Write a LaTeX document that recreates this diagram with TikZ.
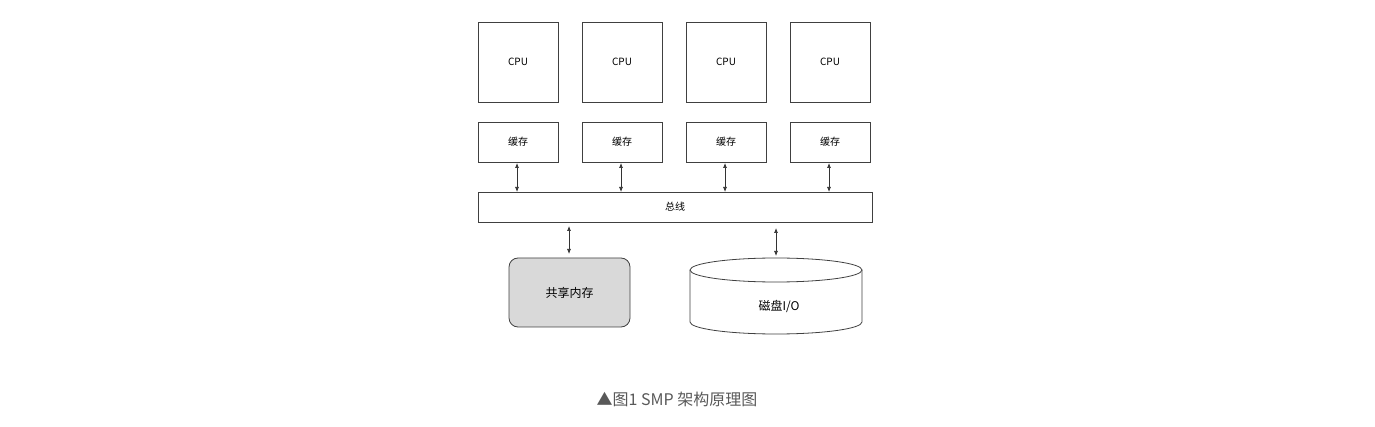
\documentclass[tikz,border=0pt]{standalone}
\usepackage{fontspec}
\setmainfont{Noto Sans CJK SC}
\usetikzlibrary{arrows.meta}
\begin{document}
\begin{tikzpicture}[x=1pt,y=-1pt,
  box/.style={draw=black!75,line width=0.8pt,fill=white,inner sep=0pt,font=\fontsize{10}{11}\selectfont},
  link/.style={{Latex[length=5pt,width=4pt]}-{Latex[length=5pt,width=4pt]},line width=0.7pt,draw=black!80}]
\useasboundingbox (0,0) rectangle (1375,427);
\foreach \i/\x in {1/518,2/622,3/726,4/830}{
  \node[box,minimum width=80pt,minimum height=80pt] (cpu\i) at (\x,62) {CPU};
  \node[box,minimum width=80pt,minimum height=40pt] (c\i) at (\x,142) {缓存};
}
\node[box,minimum width=394pt,minimum height=30pt] (bus) at (675,207) {总线};
\foreach \i/\x in {1/517,2/621,3/725,4/829}{
  \coordinate (t\i) at (\x,163);
  \coordinate (b\i) at (\x,192);
  \draw[link] (t\i) -- (b\i);
}
\node[box,fill=black!15,rounded corners=9pt,minimum width=121pt,minimum height=69pt,font=\fontsize{12}{13}\selectfont] (mem) at (569.5,292.5) {共享内存};
\coordinate (m1) at (569,226); \coordinate (m2) at (569,254);
\draw[link] (m1) -- (m2);
% disk cylinder
\draw[line width=0.8pt,draw=black!75,fill=white] (690,270) -- (690,322) arc[start angle=180,end angle=0,x radius=86,y radius=12] -- (862,270);
\draw[line width=0.8pt,draw=black!75,fill=white] (776,270) ellipse[x radius=86,y radius=12];
\node[font=\fontsize{12}{13}\selectfont] (disk) at (779,306) {磁盘I/O};
\coordinate (d1) at (776,228); \coordinate (d2) at (776,256);
\draw[link] (d1) -- (d2);
\node[text=black!65,font=\fontsize{16}{18}\selectfont] (cap) at (677,399) {▲图1 SMP 架构原理图};
\end{tikzpicture}
\end{document}
